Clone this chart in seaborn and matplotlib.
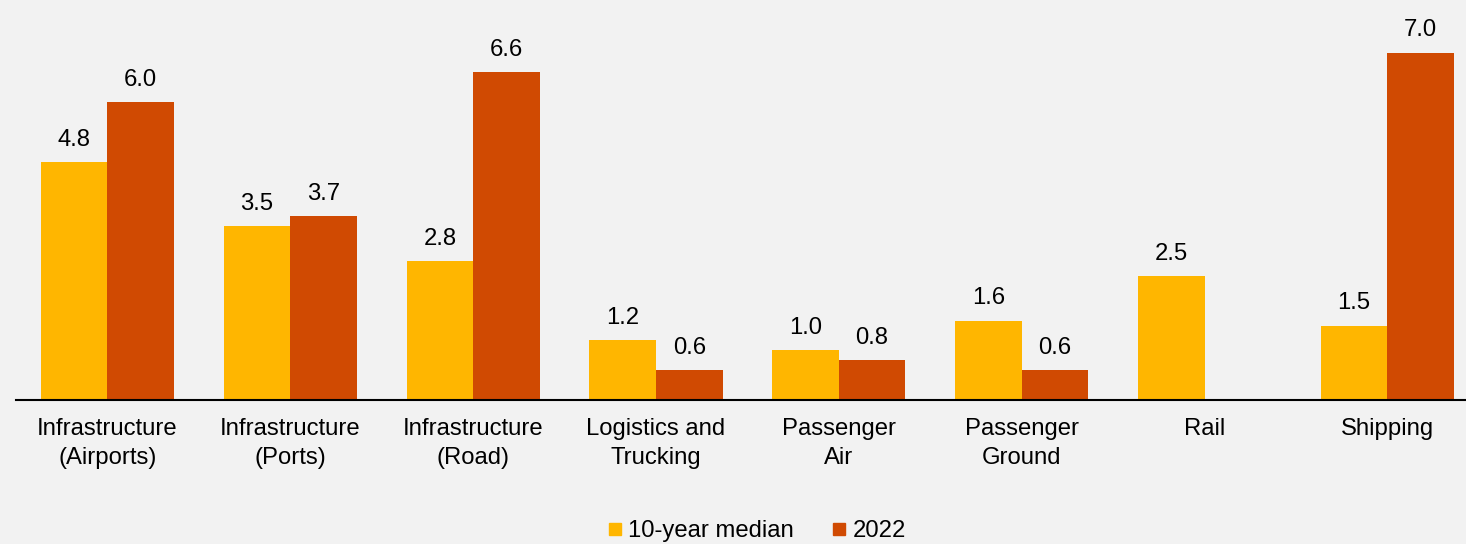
import numpy as np
import pandas as pd
import matplotlib
matplotlib.use("Agg")
import matplotlib.pyplot as plt
from matplotlib.lines import Line2D
import seaborn as sns

categories = ["Infrastructure\n(Airports)", "Infrastructure\n(Ports)", "Infrastructure\n(Road)",
              "Logistics and\nTrucking", "Passenger\nAir", "Passenger\nGround", "Rail", "Shipping"]
median_10y = [4.8, 3.5, 2.8, 1.2, 1.0, 1.6, 2.5, 1.5]
year_2022 = [6.0, 3.7, 6.6, 0.6, 0.8, 0.6, np.nan, 7.0]
series_names = ["10-year median", "2022"]
colors = ["#FFB600", "#D04A02"]

df = pd.DataFrame({
    "category": categories * 2,
    "series": [series_names[0]] * len(categories) + [series_names[1]] * len(categories),
    "value": median_10y + year_2022,
})

sns.set_theme(style="white")
plt.rcParams["font.family"] = ["Liberation Sans", "DejaVu Sans"]
plt.rcParams["text.color"] = "#000000"

bg = "#F2F2F2"
fig = plt.figure(figsize=(14.66, 5.44), dpi=100, facecolor=bg)
ax = fig.add_axes([16 / 1466, 144 / 544, 1 - 16 / 1466, 400 / 544])
ax.set_facecolor(bg)

sns.barplot(data=df, x="category", y="value", hue="series", order=categories,
            hue_order=series_names, palette=colors, width=0.728, gap=0,
            saturation=1, legend=False, ax=ax, linewidth=0)

for cont in ax.containers:
    labels = ["" if (v is None or np.isnan(v)) else f"{v:.1f}" for v in cont.datavalues]
    ax.bar_label(cont, labels=labels, padding=8, fontsize=17.2, color="#000000")

ax.set_xlim(-0.5, 7.43)
ax.set_ylim(0, 8.06)
ax.set_xlabel("")
ax.set_ylabel("")
ax.set_yticks([])
ax.tick_params(axis="x", length=0, pad=13, labelsize=17.2, colors="#000000")
for lbl in ax.get_xticklabels():
    lbl.set_linespacing(1.42)
for s in ["top", "right", "left"]:
    ax.spines[s].set_visible(False)
ax.spines["bottom"].set_color("#000000")
ax.spines["bottom"].set_linewidth(1.5)

handles = [Line2D([0], [0], marker="s", linestyle="none", markersize=9,
                  markerfacecolor=c, markeredgecolor=c) for c in colors]
fig.legend(handles, series_names, loc="center", bbox_to_anchor=(757 / 1466, 1 - 531 / 544),
           ncol=2, frameon=False, fontsize=17.2, handlelength=0.6, handletextpad=0.25,
           columnspacing=1.6, labelcolor="#000000")

fig.savefig("out.png", dpi=100, facecolor=bg)
